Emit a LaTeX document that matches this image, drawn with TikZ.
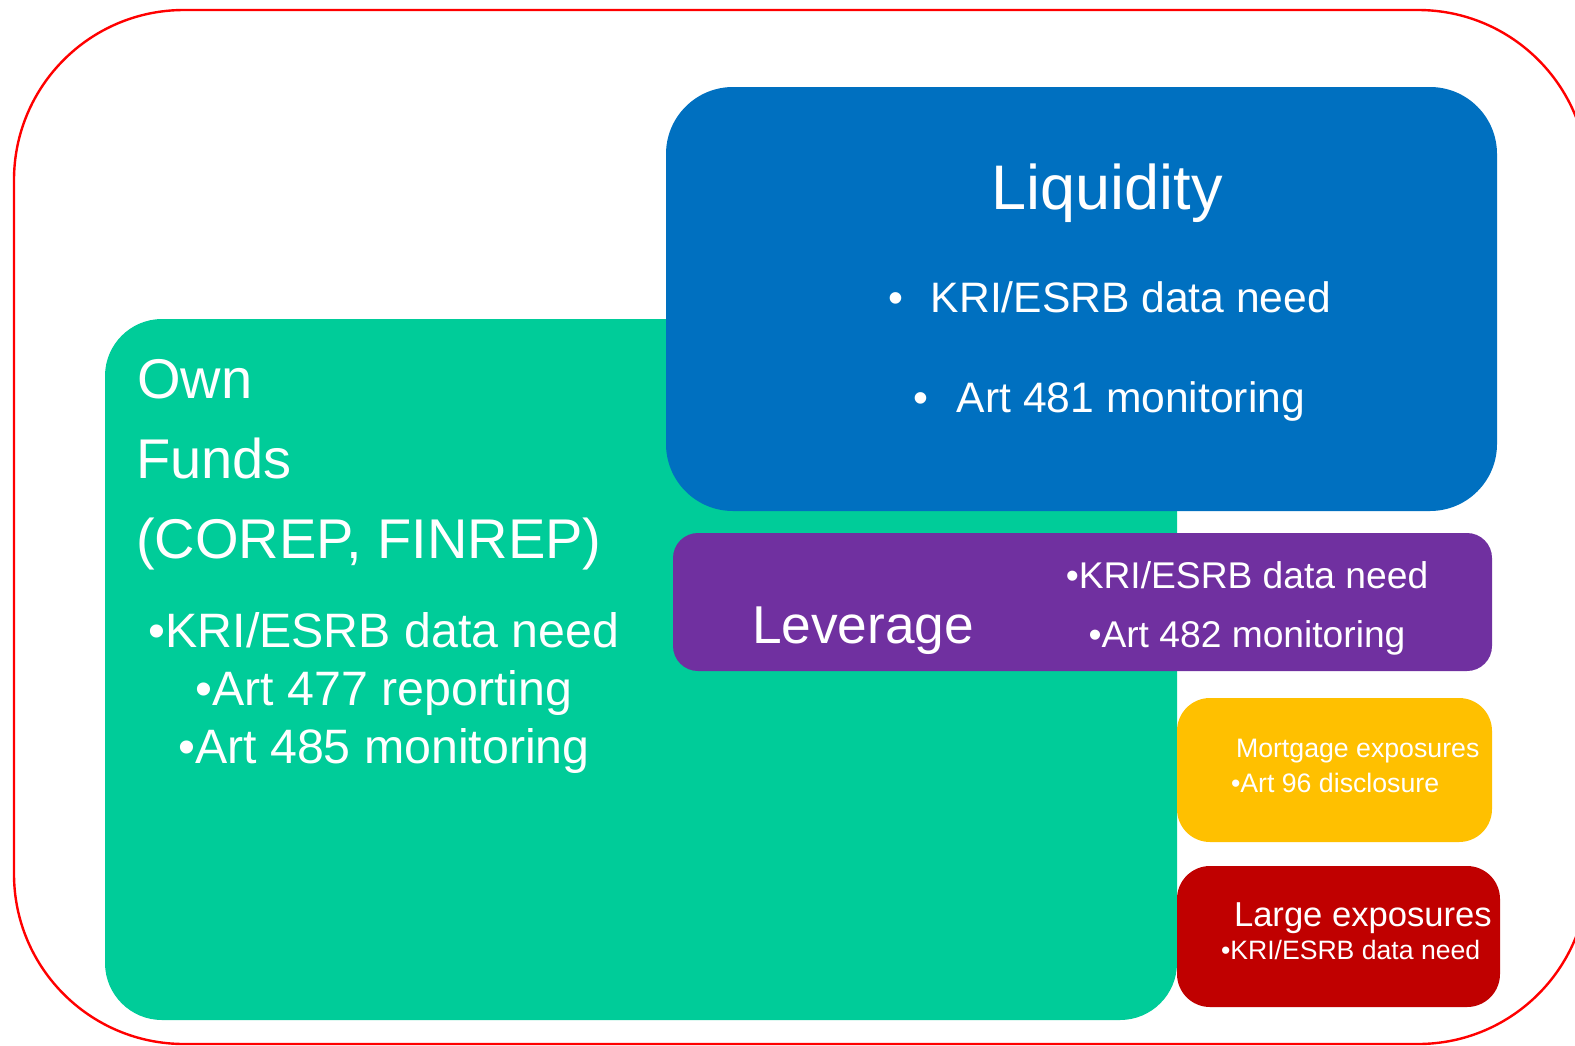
\documentclass[tikz,border=0pt]{standalone}
\usepackage{fontspec}
\setmainfont{Liberation Sans}
\definecolor{ownc}{HTML}{00CC99}
\definecolor{liqc}{HTML}{0070C0}
\definecolor{levc}{HTML}{7030A0}
\definecolor{morc}{HTML}{FFC000}
\definecolor{larc}{HTML}{C00000}
\definecolor{framec}{HTML}{FF0000}
\begin{document}
\begin{tikzpicture}[x=1pt,y=-1pt,
  panel/.style={inner sep=0pt, outer sep=0pt, draw=none, anchor=north west},
  lbl/.style={inner sep=0pt, outer sep=0pt, text=white, anchor=base west},
  clbl/.style={inner sep=0pt, outer sep=0pt, text=white, anchor=base},
  fs/.style={font={\fontsize{#1}{#1}\selectfont}}]
\useasboundingbox (0,0) rectangle (1575,1045);
% outer frame
\draw[framec, line width=2.4pt, rounded corners=170pt] (14,10) rectangle (1588,1044);
% panels
\node[panel, fill=ownc, rounded corners=57pt, minimum width=1072pt, minimum height=701pt] (own) at (105,319) {};
\node[panel, fill=liqc, rounded corners=67pt, minimum width=831pt, minimum height=424pt] (liq) at (666,87) {};
\node[panel, fill=levc, rounded corners=25pt, minimum width=819pt, minimum height=138pt] (lev) at (673,533) {};
\node[panel, fill=morc, rounded corners=33pt, minimum width=315pt, minimum height=144pt] (mor) at (1177,698) {};
\node[panel, fill=larc, rounded corners=33pt, minimum width=323pt, minimum height=141pt] (lar) at (1177,866) {};
% own funds texts
\node[lbl, fs=56] (ownA) at (137,398) {Own};
\node[lbl, fs=56] (ownB) at (136,478) {Funds};
\node[lbl, fs=56] (ownC) at (136,558) {(COREP, FINREP)};
\node[clbl, fs=48.3] (ownD) at (384,647) {•KRI/ESRB data need};
\node[clbl, fs=48.3] (ownE) at (384,705) {•Art 477 reporting};
\node[clbl, fs=48.3] (ownF) at (384,763) {•Art 485 monitoring};
% liquidity texts
\node[clbl, fs=63] (liqA) at (1107,209) {Liquidity};
\node[lbl, fs=42.6] (liqB) at (888,312) {•\hspace{28pt}KRI/ESRB data need};
\node[lbl, fs=42.6] (liqC) at (913,412) {•\hspace{29pt}Art 481 monitoring};
% leverage texts
\node[lbl, fs=53.3] (levA) at (752,643) {Leverage};
\node[clbl, fs=37.2] (levB) at (1247,588) {•KRI/ESRB data need};
\node[clbl, fs=37.2] (levC) at (1247,647) {•Art 482 monitoring};
% mortgage texts
\node[lbl, fs=26.7] (morA) at (1236,757) {Mortgage exposures};
\node[lbl, fs=26.7] (morB) at (1231,792) {•Art 96 disclosure};
% large exposures texts
\node[lbl, fs=34.6] (larA) at (1234,926) {Large exposures};
\node[lbl, fs=26.6] (larB) at (1221,959) {•KRI/ESRB data need};
\end{tikzpicture}
\end{document}
